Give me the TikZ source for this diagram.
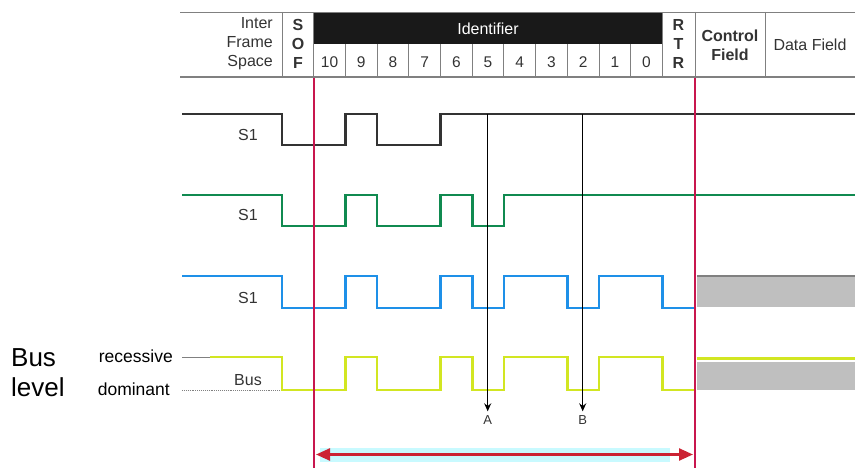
\documentclass[tikz,border=0pt]{standalone}
\usepackage{fontspec}
\setmainfont{Liberation Sans}
\usetikzlibrary{arrows.meta}
\definecolor{txtgray}{HTML}{333333}
\definecolor{linegray}{HTML}{808080}
\definecolor{sigblack}{HTML}{333333}
\definecolor{siggreen}{HTML}{108A50}
\definecolor{sigblue}{HTML}{1E90E8}
\definecolor{sigyellow}{HTML}{D2E622}
\definecolor{redline}{HTML}{C8164E}
\definecolor{arrred}{HTML}{CC2233}
\definecolor{glowcyan}{HTML}{C8FAFF}
\definecolor{boxgray}{HTML}{BFBFBF}
\begin{document}
\begin{tikzpicture}[x=1pt,y=-1pt,
  hdr/.style={font=\fontsize{16}{19}\selectfont, text=txtgray, inner sep=0pt},
  hdrb/.style={font=\fontsize{16}{19}\selectfont\bfseries, text=txtgray, inner sep=0pt},
  digit/.style={font=\fontsize{15.5}{18}\selectfont, text=txtgray, inner sep=0pt},
  lbl/.style={font=\fontsize{16}{19}\selectfont, text=txtgray, inner sep=0pt},
  lvl/.style={font=\fontsize{17.5}{20}\selectfont, text=black, inner sep=0pt},
  big/.style={font=\fontsize{26}{30}\selectfont, text=black, inner sep=0pt},
  tiny/.style={font=\fontsize{13}{15}\selectfont, text=txtgray, inner sep=2pt},
  frame/.style={draw=linegray, line width=0.9pt},
  wave/.style={line width=2.6pt, line join=miter},
  redv/.style={draw=redline, line width=2.4pt},
  probe/.style={draw=black, line width=1.2pt, -{Stealth[length=8pt,width=7pt]}},
  span/.style={draw=arrred, line width=2.4pt, {Triangle[length=14pt,width=12pt]}-{Triangle[length=14pt,width=12pt]}},
  glow/.style={draw=glowcyan, line width=14pt},
  graybox/.style={fill=boxgray, draw=none}
]
\useasboundingbox (0,0) rectangle (855,468);

% ---------------- header ----------------
\fill[black!90] (313.7,12) rectangle (662.4,44);
\draw[frame] (180,12) -- (855,12);
\draw[frame, line width=1.4pt] (180,77) -- (855,77);
\foreach \xx in {282,313.7,662.4,695,765} \draw[frame] (\xx,12) -- (\xx,77);
\foreach \i in {2,...,11} \draw[frame] ({282+31.7*\i},44) -- ({282+31.7*\i},77);

\node[hdr, anchor=east, align=right] (ifs) at (273,44) {Inter\\Frame\\Space};
\node[hdrb, align=center] (sof) at (298,44) {S\\O\\F};
\node[hdr, text=white] (ident) at (488,29) {Identifier};
\foreach \d [count=\i] in {10,9,8,7,6,5,4,3,2,1,0}
  \node[digit] (bit\d) at ({282+31.7*\i+15.85},62) {\d};
\node[hdrb, align=center] (rtr) at (678.5,44) {R\\T\\R};
\node[hdrb, align=center] (ctl) at (730,45) {Control\\Field};
\node[hdr] (data) at (810,45) {Data Field};

% ---------------- gray boxes ----------------
\fill[graybox] (697,276) rectangle (855,307);
\draw[draw=linegray, line width=1.2pt] (697,276) -- (855,276);
\fill[graybox] (697,362) rectangle (855,390);

% ---------------- waveforms ----------------
\draw[wave, sigblack] (182,114) -- (282,114) -- (282,145) -- (345.4,145) -- (345.4,114)
  -- (377.1,114) -- (377.1,145) -- (440.5,145) -- (440.5,114) -- (855,114);

\draw[wave, siggreen] (182,195) -- (282,195) -- (282,226) -- (345.4,226) -- (345.4,195)
  -- (377.1,195) -- (377.1,226) -- (440.5,226) -- (440.5,195) -- (472.2,195)
  -- (472.2,226) -- (503.9,226) -- (503.9,195) -- (855,195);

\draw[wave, sigblue] (182,276) -- (282,276) -- (282,308) -- (345.4,308) -- (345.4,276)
  -- (377.1,276) -- (377.1,308) -- (440.5,308) -- (440.5,276) -- (472.2,276)
  -- (472.2,308) -- (503.9,308) -- (503.9,276) -- (567.3,276) -- (567.3,308)
  -- (599,308) -- (599,276) -- (662.4,276) -- (662.4,308) -- (695,308);

\draw[linegray, line width=1pt] (182,357) -- (212,357);
\draw[linegray, line width=0.9pt, densely dotted] (182,390) -- (282,390);
\draw[wave, sigyellow] (210,357) -- (282,357) -- (282,390) -- (345.4,390) -- (345.4,357)
  -- (377.1,357) -- (377.1,390) -- (440.5,390) -- (440.5,357) -- (472.2,357)
  -- (472.2,390) -- (503.9,390) -- (503.9,357) -- (567.3,357) -- (567.3,390)
  -- (599,390) -- (599,357) -- (662.4,357) -- (662.4,390) -- (695,390);
\draw[wave, sigyellow, line width=3pt] (697,358.5) -- (855,358.5);

% ---------------- labels ----------------
\node[lbl] (s1a) at (248,135) {S1};
\node[lbl] (s1b) at (248,215) {S1};
\node[lbl] (s1c) at (248,298) {S1};
\node[lbl] (busl) at (248,380) {Bus};
\node[lvl, anchor=east] (rec) at (173,356) {recessive};
\node[lvl, anchor=east] (dom) at (170,389) {dominant};
\node[big, align=left, anchor=west] (buslevel) at (11,373) {Bus\\level};

% ---------------- red markers ----------------
\coordinate (r1t) at (313.7,78);
\coordinate (r1b) at (313.7,468);
\coordinate (r2t) at (695,78);
\coordinate (r2b) at (695,468);
\draw[redv] (r1t) -- (r1b);
\draw[redv] (r2t) -- (r2b);

\coordinate (spanL) at (316,454.5);
\coordinate (spanR) at (693,454.5);
\draw[glow] ([xshift=4pt]spanL) -- ([xshift=-23pt]spanR);
\draw[span] (spanL) -- (spanR);

% ---------------- probes A / B ----------------
\coordinate (atop) at (487.7,114);
\coordinate (btop) at (582.7,114);
\node[tiny] (A) at (487.7,420) {A};
\node[tiny] (B) at (582.7,420) {B};
\draw[probe, shorten >=2pt] (atop) -- (A.north);
\draw[probe, shorten >=2pt] (btop) -- (B.north);
\end{tikzpicture}
\end{document}
